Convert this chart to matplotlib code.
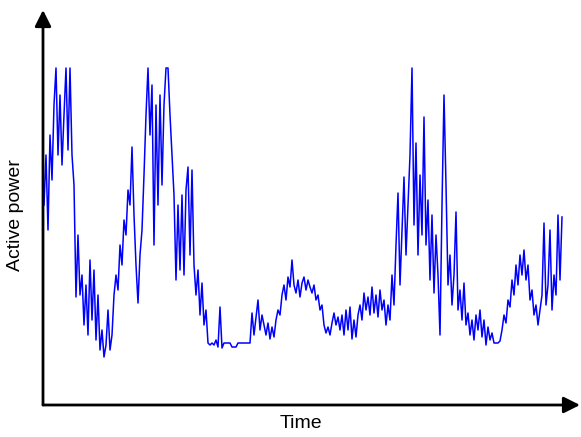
import numpy as np
import matplotlib.pyplot as plt

# active power trace (one sample every 2 px of time)
power = [
    200, 250, 175, 270, 225, 300, 337, 250, 310, 240,
    290, 337, 255, 337, 250, 220, 108, 170, 110, 130,
    80, 120, 70, 145, 85, 135, 65, 110, 55, 75,
    48, 60, 95, 55, 70, 110, 130, 115, 160, 140,
    185, 170, 215, 200, 258, 190, 140, 102, 150, 175,
    230, 290, 337, 270, 320, 160, 300, 200, 310, 220,
    300, 337, 337, 290, 250, 210, 125, 200, 135, 210,
    130, 215, 238, 150, 235, 140, 110, 135, 90, 122,
    80, 95, 62, 60, 62, 60, 65, 58, 98, 57,
    62, 62, 62, 62, 58, 58, 58, 62, 62, 62,
    62, 62, 62, 62, 92, 70, 88, 105, 75, 90,
    80, 70, 82, 66, 78, 68, 85, 95, 90, 110,
    120, 105, 128, 118, 145, 120, 112, 125, 108, 122,
    128, 115, 125, 118, 112, 120, 105, 110, 95, 100,
    80, 72, 78, 70, 82, 92, 80, 88, 75, 90,
    70, 95, 75, 98, 66, 85, 68, 90, 100, 85,
    112, 95, 108, 90, 118, 92, 110, 88, 115, 95,
    105, 80, 100, 85, 130, 100, 160, 212, 120, 175,
    228, 150, 200, 250, 337, 180, 262, 150, 230, 170,
    288, 160, 205, 125, 190, 112, 170, 130, 70, 200,
    310, 220, 120, 150, 100, 130, 193, 95, 115, 85,
    122, 80, 92, 70, 85, 65, 90, 75, 95, 68,
    85, 60, 78, 65, 72, 62, 62, 62, 64, 75,
    90, 82, 105, 98, 125, 110, 140, 120, 150, 130,
    155, 125, 140, 105, 115, 90, 100, 80, 95, 110,
    182, 100, 120, 175, 95, 130, 110, 190, 125, 188,
]
time = np.arange(len(power)) * 2 + 1

fig = plt.figure(figsize=(5.81, 4.37), dpi=100)
ax = fig.add_axes([43 / 581, 32 / 437, 537 / 581, 395 / 437])
ax.plot(time, power, color='#0000ff', lw=1.1)
ax.set_xlim(0, 537)
ax.set_ylim(0, 395)
for s in ax.spines.values():
    s.set_visible(False)
ax.set_xticks([])
ax.set_yticks([])

# axis arrows
arrow = dict(arrowstyle='-|>,head_length=0.7,head_width=0.35', color='black',
             lw=2, shrinkA=0, shrinkB=0, mutation_scale=14)
ax.annotate('', xy=(0, 1), xytext=(0, 0), xycoords='axes fraction', arrowprops=arrow)
ax.annotate('', xy=(1, 0), xytext=(0, 0), xycoords='axes fraction', arrowprops=arrow)

fig.text(16 / 581, 1 - 215 / 437, 'Active power', rotation=90, ha='center', va='center',
         fontsize=14, family='Liberation Sans')
fig.text(301 / 581, 1 - 424 / 437, 'Time', ha='center', va='center',
         fontsize=14, family='Liberation Sans')

fig.savefig('out.png', dpi=100)
